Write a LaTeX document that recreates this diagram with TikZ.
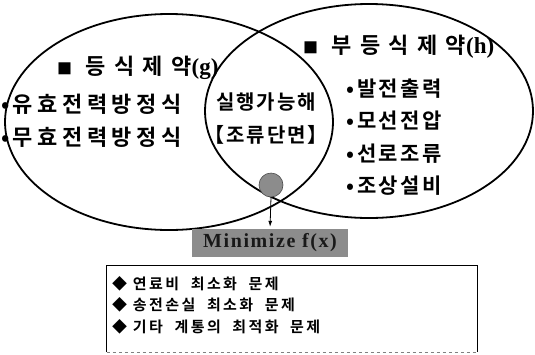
\documentclass[tikz,border=0pt]{standalone}
\usepackage{fontspec}
\setmainfont{Liberation Serif}
\newfontfamily\kr[LetterSpace=21]{Noto Sans CJK KR Bold}
\newfontfamily\krr[LetterSpace=12]{Noto Sans CJK KR Bold}
\newfontfamily\krt[LetterSpace=38]{Noto Sans CJK KR Bold}
\newfontfamily\krm[LetterSpace=10]{Noto Sans CJK KR Bold}
\newfontfamily\krb[LetterSpace=16]{Noto Sans CJK KR Bold}
\newfontfamily\minfont[LetterSpace=8]{Liberation Serif}
\usetikzlibrary{arrows.meta,shapes.geometric}
\tikzset{
  venn/.style={draw=black, line width=1.8pt, ellipse, inner sep=0pt},
  title/.style={anchor=west, inner sep=0pt, font=\krt\fontsize{22}{22}\selectfont},
  item/.style={anchor=west, inner sep=0pt, font=\kr\fontsize{22}{22}\selectfont},
  itemr/.style={anchor=west, inner sep=0pt, font=\krr\fontsize{21}{22}\selectfont},
  mid/.style={inner sep=0pt, font=\krm\fontsize{20}{22}\selectfont},
  boxitem/.style={anchor=west, inner sep=0pt, font=\krb\fontsize{15}{16}\selectfont},
  minbox/.style={fill=black!45, minimum width=156pt, minimum height=28pt, inner sep=0pt,
     font=\minfont\bfseries\fontsize{20}{20}\selectfont, text=black!90},
}
\begin{document}
\begin{tikzpicture}[x=1pt,y=-1pt]
\useasboundingbox (0,0) rectangle (535,354);
\fill[white] (0,0) rectangle (535,354);
% ellipses
\node[venn, minimum width=328pt, minimum height=216pt] (L) at (169,122) {};
\node[venn, minimum width=328pt, minimum height=214pt] (R) at (369,111) {};
% left labels
\node[title] (gt) at (57,68) {{\fontsize{15}{15}\selectfont■} 등식제약{\rmfamily\bfseries\fontsize{23}{22}\selectfont(g)}};
\node[item] (g1) at (1,104) {•\hspace{3pt}유효전력방정식};
\node[item] (g2) at (1,137) {•\hspace{3pt}무효전력방정식};
% middle
\node[mid] (f1) at (266,102) {실행가능해};
\node[mid] (f2) at (266,135) {【조류단면】};
% right labels
\node[title] (ht) at (303,47) {{\fontsize{15}{15}\selectfont■} 부등식제약{\rmfamily\bfseries\fontsize{23}{22}\selectfont(h)}};
\node[itemr] (h1) at (346,89) {•\hspace{3pt}발전출력};
\node[itemr] (h2) at (346,121) {•\hspace{3pt}모선전압};
\node[itemr] (h3) at (346,154) {•\hspace{3pt}선로조류};
\node[itemr] (h4) at (346,186) {•\hspace{3pt}조상설비};
% point and arrow
\node[circle, draw=black!70, fill=black!45, minimum size=24pt, inner sep=0pt, line width=0.6pt] (P) at (271,185) {};
\node[minbox] (M) at (270,243) {Minimize f(x)};
\draw[line width=0.8pt, -{Latex[length=6pt,width=4pt]}, shorten >=2pt] (P.south) -- (M.north);
% result box
\node[minimum width=370pt, minimum height=86pt, inner sep=0pt] (B) at (292,309) {};
\draw[line width=1.2pt] (B.south west) -- (B.north west) -- (B.north east) -- (B.south east);
\draw[line width=1pt, black!50, dashed] (B.south west) -- (B.south east);
\node[boxitem] (b1) at (112,284) {◆ 연료비 \ 최소화 \ 문제};
\node[boxitem] (b2) at (112,305) {◆ 송전손실 \ 최소화 \ 문제};
\node[boxitem] (b3) at (112,327) {◆ 기타 \ 계통의 \ 최적화 \ 문제};
\end{tikzpicture}
\end{document}
